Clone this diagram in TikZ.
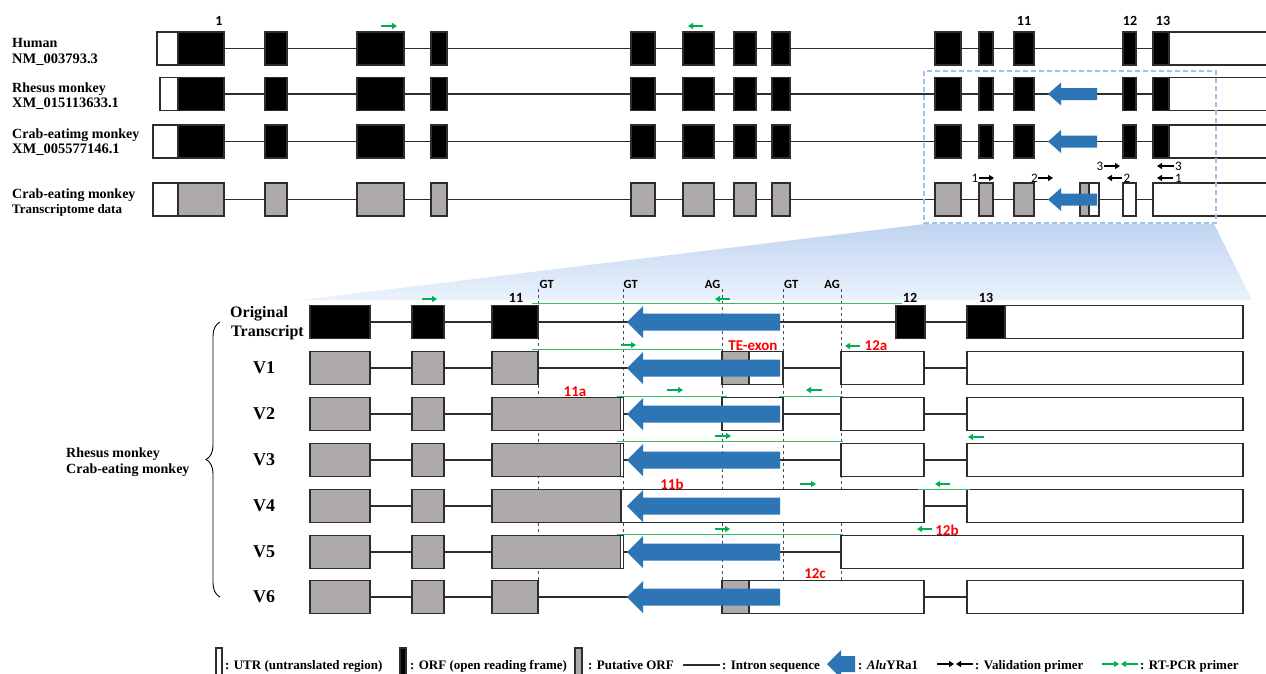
\documentclass[tikz,border=0pt]{standalone}
\usepackage{fontspec}
\setmainfont{Liberation Serif}
\newfontfamily\calf{Carlito}
\usetikzlibrary{arrows.meta,decorations.pathreplacing}
\definecolor{grayfill}{RGB}{174,170,170}
\definecolor{alublue}{RGB}{46,117,182}
\definecolor{grn}{RGB}{0,176,80}
\definecolor{lgrn}{RGB}{60,190,100}
\definecolor{dboxc}{RGB}{157,195,230}
\definecolor{bd}{RGB}{45,45,45}
\definecolor{redl}{RGB}{255,0,0}
\definecolor{fantop}{RGB}{192,212,240}
\definecolor{fanbot}{RGB}{234,242,252}
\newcommand\fsz[1]{\fontsize{#1}{#1}\selectfont}
\newcommand\exn[6][33]{\pgfmathsetmacro\exw{#5-#4}\node[exbox,#2,minimum height=#1pt,minimum width=\exw pt,anchor=west] (#3) at (#4,#6) {};}
\newcommand\aluarr[6]{\fill[alublue] (#1,#3) -- ({#1+#6},{#3-#4}) -- ({#1+#6},{#3-#5}) -- (#2,{#3-#5}) -- (#2,{#3+#5}) -- ({#1+#6},{#3+#5}) -- ({#1+#6},{#3+#4}) -- cycle;}
\newcommand\prim[4]{\coordinate (pa) at (#2,#4); \coordinate (pb) at (#3,#4); \draw[#1] (pa) -- (pb);}
\tikzset{
 exbox/.style={rectangle,draw=bd,line width=1.2pt,inner sep=0pt,outer sep=0pt},
 orf/.style={fill=black},
 utr/.style={fill=white},
 putf/.style={fill=grayfill},
 intron/.style={draw=bd,line width=1.2pt},
 vdash/.style={draw=black!70,line width=0.9pt,dash pattern=on 3pt off 3pt},
 gline/.style={draw=lgrn,line width=1pt},
 garr/.style={draw=grn,line width=1.3pt,-{Triangle[length=5pt,width=6pt]}},
 barr/.style={draw=black,line width=1.3pt,-{Triangle[length=5pt,width=6pt]}},
 lab/.style={font=\bfseries\fsz{14},inner sep=0pt,anchor=base west},
 idlab/.style={font=\bfseries\fsz{14.5},inner sep=0pt,anchor=base west},
 numlab/.style={font=\calf\bfseries\fsz{14},inner sep=0pt},
 smlab/.style={font=\calf\bfseries\fsz{12.5},inner sep=0pt},
 redlab/.style={font=\calf\bfseries\fsz{15},text=redl,inner sep=0pt},
 vlab/.style={font=\bfseries\fsz{18},inner sep=0pt},
 leg/.style={font=\bfseries\fsz{13},inner sep=0pt,anchor=base west},
 pnum/.style={font=\calf\fsz{13},inner sep=0pt},
}
\begin{document}
\begin{tikzpicture}[x=1pt,y=-1pt]
\useasboundingbox (0,0) rectangle (1266,673);
\fill[white] (0,0) rectangle (1266,673);
% zoom fan
\shade[top color=fantop,bottom color=fanbot] (925,224) -- (1214,224) -- (1252,300) -- (302,300) -- cycle;

% ---------- top panel labels ----------
\node[lab] (l1a) at (12,47) {Human};
\node[idlab] (l1b) at (12,63) {NM\_003793.3};
\node[lab] (l2a) at (12,92) {Rhesus monkey};
\node[idlab] (l2b) at (12,107.5) {XM\_015113633.1};
\node[lab] (l3a) at (12,138) {Crab-eatimg monkey};
\node[idlab] (l3b) at (12,153) {XM\_005577146.1};
\node[lab] (l4a) at (12,198) {Crab-eating monkey};
\node[lab,font=\bfseries\fsz{13}] (l4b) at (12,213.5) {Transcriptome data};

\node[numlab] (n1) at (219,21) {1};
\node[numlab] (n11) at (1024,21) {11};
\node[numlab] (n12) at (1130,21) {12};
\node[numlab] (n13) at (1163,21) {13};

% ---------- top rows ----------
\foreach \rw/\y/\s in {h/48.5/157, r/94/160, c/141.5/153} {
  \exn{utr}{\rw0}{\s}{178}{\y}
  \exn{orf}{\rw1}{178}{224}{\y}
  \foreach \n/\a/\b in {2/265/287,3/357/404,4/431/447,5/631/655,6/683/714,7/734/756,8/772/790,9/935/961,10/979/993,11/1014/1034,12/1123/1136,13/1153/1169} {\exn{orf}{\rw\n}{\a}{\b}{\y}}
  \exn{utr}{\rw14}{1169}{1285}{\y}
  \foreach \a [evaluate=\a as \b using int(\a+1)] in {1,...,12} {\draw[intron] (\rw\a.east) -- (\rw\b.west);}
}
% transcriptome row
\exn{utr}{t0}{153}{178}{199.5}
\exn{putf}{t1}{178}{224}{199.5}
\foreach \n/\a/\b in {2/265/287,3/357/404,4/431/447,5/631/655,6/683/714,7/734/756,8/772/790,9/935/961,10/979/993,11/1014/1034} {\exn{putf}{t\n}{\a}{\b}{199.5}}
\exn{putf}{tte}{1080}{1089}{199.5}
\exn{utr}{ttw}{1089}{1099}{199.5}
\exn{utr}{t12}{1123}{1136}{199.5}
\exn{utr}{t13}{1153}{1285}{199.5}
\foreach \a [evaluate=\a as \b using int(\a+1)] in {1,...,10} {\draw[intron] (t\a.east) -- (t\b.west);}
\draw[intron] (t11.east) -- (tte.west);
\draw[intron] (ttw.east) -- (t12.west);
\draw[intron] (t12.east) -- (t13.west);

% Alu arrows top
\aluarr{1048}{1097}{94}{11.5}{6}{13}
\aluarr{1048}{1097}{141.5}{11.5}{6}{13}
\aluarr{1048}{1097}{199.5}{11.5}{6}{13}

% RT-PCR primers top
\prim{garr}{381}{397}{26}
\prim{garr}{703}{688}{26}

% validation primers
\prim{barr}{979}{994}{178}   \node[pnum] (v1n) at (975,178) {1};
\prim{barr}{1038}{1053}{178} \node[pnum] (v2n) at (1034.5,178) {2};
\prim{barr}{1104}{1120}{166} \node[pnum] (v3n) at (1100,166) {3};
\prim{barr}{1122}{1107}{178} \node[pnum] (v2r) at (1127,178) {2};
\prim{barr}{1174}{1157}{166} \node[pnum] (v3r) at (1178.5,166) {3};
\prim{barr}{1173}{1157}{178} \node[pnum] (v1r) at (1178.5,178) {1};

% dashed zoom box
\draw[dboxc,line width=1.4pt,dash pattern=on 5pt off 3pt] (924,71) rectangle (1216,223);

% ---------- lower panel ----------
\foreach \x/\e in {538/580,623/568,722/580,783/580,841/580} {\draw[vdash] (\x,289) -- (\x,\e);}
\node[smlab,anchor=base west] (gt1) at (539.5,288.5) {GT};
\node[smlab,anchor=base west] (gt2) at (623.5,288.5) {GT};
\node[smlab,anchor=base east] (ag1) at (720.5,288.5) {AG};
\node[smlab,anchor=base west] (gt3) at (784,288.5) {GT};
\node[smlab,anchor=base east] (ag2) at (840,288.5) {AG};

\node[numlab] (m11) at (516,298) {11};
\node[numlab] (m12) at (910,298) {12};
\node[numlab] (m13) at (986,298) {13};

% row labels
\node[font=\bfseries\fsz{16},inner sep=0pt,anchor=base west] (ot1) at (230,317.5) {Original};
\node[font=\bfseries\fsz{16},inner sep=0pt,anchor=base west] (ot2) at (231,336) {Transcript};
\node[vlab] (V1) at (264,368) {V1};
\node[vlab] (V2) at (264,414) {V2};
\node[vlab] (V3) at (264,460) {V3};
\node[vlab] (V4) at (264,506) {V4};
\node[vlab] (V5) at (264,552) {V5};
\node[vlab] (V6) at (264,597) {V6};
\draw[decorate,decoration={brace,amplitude=14pt},line width=0.9pt] (220,597) -- (220,322);
\node[lab] (sp1) at (66,457) {Rhesus monkey};
\node[lab] (sp2) at (66,473.5) {Crab-eating monkey};

% Original transcript
\exn{orf}{oA}{310}{370}{322}
\exn{orf}{oB}{412}{444}{322}
\exn{orf}{oC}{492}{538}{322}
\exn{orf}{o12}{896}{925}{322}
\exn{orf}{o13}{967}{1005}{322}
\exn{utr}{o13u}{1005}{1243}{322}
\draw[intron] (oA.east) -- (oB.west);
\draw[intron] (oB.east) -- (oC.west);
\draw[intron] (oC.east) -- (o12.west);
\draw[intron] (o12.east) -- (o13.west);

% V1
\exn{putf}{aA}{310}{370}{368}
\exn{putf}{aB}{412}{444}{368}
\exn{putf}{aC}{492}{538}{368}
\exn{putf}{aT}{722}{749}{368}
\exn{utr}{aTw}{749}{783}{368}
\exn{utr}{a12}{841}{924}{368}
\exn{utr}{a13}{967}{1243}{368}
\draw[intron] (aA.east) -- (aB.west);
\draw[intron] (aB.east) -- (aC.west);
\draw[intron] (aC.east) -- (aT.west);
\draw[intron] (aTw.east) -- (a12.west);
\draw[intron] (a12.east) -- (a13.west);

% V2
\exn{putf}{bA}{310}{370}{414}
\exn{putf}{bB}{412}{444}{414}
\exn{putf}{bC}{492}{620.5}{414}
\exn{utr}{bS}{620.5}{623.5}{414}
\exn{utr}{bT}{722}{783}{414}
\exn{utr}{b12}{841}{924}{414}
\exn{utr}{b13}{967}{1243}{414}
\draw[intron] (bA.east) -- (bB.west);
\draw[intron] (bB.east) -- (bC.west);
\draw[intron] (bS.east) -- (bT.west);
\draw[intron] (bT.east) -- (b12.west);
\draw[intron] (b12.east) -- (b13.west);

% V3
\exn{putf}{cA}{310}{370}{460}
\exn{putf}{cB}{412}{444}{460}
\exn{putf}{cC}{492}{620.5}{460}
\exn{utr}{cS}{620.5}{623.5}{460}
\exn{utr}{c12}{841}{924}{460}
\exn{utr}{c13}{967}{1243}{460}
\draw[intron] (cA.east) -- (cB.west);
\draw[intron] (cB.east) -- (cC.west);
\draw[intron] (cS.east) -- (c12.west);
\draw[intron] (c12.east) -- (c13.west);

% V4
\exn{putf}{dA}{310}{370}{506}
\exn{putf}{dB}{412}{444}{506}
\exn{putf}{dC}{492}{621}{506}
\exn{utr}{dW}{621}{924}{506}
\exn{utr}{d13}{967}{1243}{506}
\draw[intron] (dA.east) -- (dB.west);
\draw[intron] (dB.east) -- (dC.west);
\draw[intron] (dW.east) -- (d13.west);

% V5
\exn{putf}{eA}{310}{370}{552}
\exn{putf}{eB}{412}{444}{552}
\exn{putf}{eC}{492}{620.5}{552}
\exn{utr}{eS}{620.5}{623.5}{552}
\exn{utr}{e12}{841}{1243}{552}
\draw[intron] (eA.east) -- (eB.west);
\draw[intron] (eB.east) -- (eC.west);
\draw[intron] (eS.east) -- (e12.west);

% V6
\exn{putf}{fA}{310}{370}{597}
\exn{putf}{fB}{412}{444}{597}
\exn{putf}{fC}{492}{538}{597}
\exn{putf}{fT}{722}{749}{597}
\exn{utr}{fTw}{749}{924}{597}
\exn{utr}{f13}{967}{1243}{597}
\draw[intron] (fA.east) -- (fB.west);
\draw[intron] (fB.east) -- (fC.west);
\draw[intron] (fC.east) -- (fT.west);
\draw[intron] (fTw.east) -- (f13.west);

% Alu arrows lower
\foreach \y in {322,368,414,460,506,552,597} {\aluarr{627}{780}{\y}{16}{8.5}{16}}

% RT-PCR primers lower
\prim{gline}{532}{902}{303}
\prim{garr}{422}{437}{299}
\prim{garr}{730}{715}{299}
\prim{gline}{532}{722}{349}
\prim{garr}{621}{636}{345}
\prim{garr}{860}{845}{346}
\prim{gline}{617}{727}{396}
\prim{garr}{667}{683}{390}
\prim{gline}{779}{843}{396}
\prim{garr}{822}{806}{390}
\prim{gline}{617}{843}{441}
\prim{garr}{715}{731}{436}
\prim{garr}{984}{968}{437}
\prim{garr}{800}{816}{484}
\prim{garr}{950}{935}{484}
\prim{gline}{918}{970}{489}
\prim{gline}{617}{843}{534}
\prim{garr}{715}{730}{529}
\prim{garr}{932}{917}{529}

% red labels
\node[redlab] (te) at (753,345.5) {TE-exon};
\node[redlab] (r12a) at (876,346) {12a};
\node[redlab] (r11a) at (575,391.5) {11a};
\node[redlab] (r11b) at (672,484.5) {11b};
\node[redlab] (r12b) at (947,530) {12b};
\node[redlab] (r12c) at (815,574) {12c};

% ---------- legend ----------
\node[exbox,utr,minimum width=6pt,minimum height=30pt] (lg1) at (219,663) {};
\node[leg] (lt1) at (225,669) {: UTR (untranslated region)};
\node[exbox,orf,minimum width=6pt,minimum height=30pt] (lg2) at (403,663) {};
\node[leg] (lt2) at (410,669) {: ORF (open reading frame)};
\node[exbox,putf,minimum width=7pt,minimum height=30pt] (lg3) at (578.5,663) {};
\node[leg] (lt3) at (588,669) {: Putative ORF};
\prim{intron}{683}{720}{665}
\node[leg] (lt4) at (722,669) {: Intron sequence};
\aluarr{827}{855}{664}{14}{8}{14}
\node[leg] (lt5) at (858,669) {: \textit{Alu}YRa1};
\prim{barr}{937}{954}{664}
\prim{barr}{973}{956}{664}
\node[leg] (lt6) at (975,669) {: Validation primer};
\prim{garr}{1102}{1119}{664}
\prim{garr}{1138}{1121}{664}
\node[leg] (lt7) at (1140,669) {: RT-PCR primer};
\end{tikzpicture}
\end{document}
